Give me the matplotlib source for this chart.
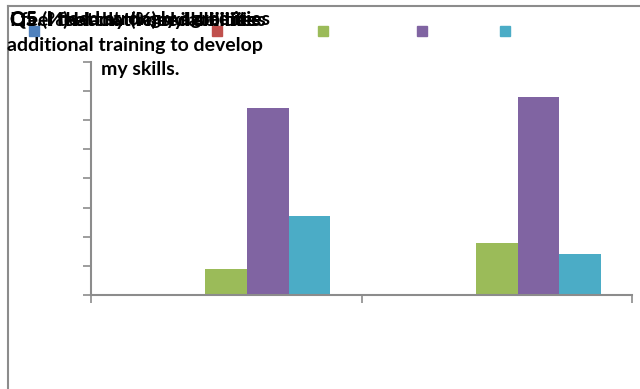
import matplotlib.pyplot as plt
from matplotlib.patches import Rectangle
from matplotlib.lines import Line2D
import numpy as np

# survey answers, percent per group
groups = ["Group 1", "Group 2"]
series_names = ["Strongly disagree", "Disagree", "Neutral", "Agree", "Strongly agree"]
colors = ["#4F81BD", "#C0504D", "#9BBB59", "#8064A2", "#4BACC6"]
strongly_disagree = [0, 0]
disagree = [0, 0]
neutral = [9, 18]
agree = [64, 68]
strongly_agree = [27, 14]
values = [strongly_disagree, disagree, neutral, agree, strongly_agree]

title_junk = ["Q5. I feel that I need abilities", "Q5 (%) I lack the my abilities",
              "Q5. I need strongly agree ities", "I feel that my (%) skills bilities"]
title_lines = ["additional training to develop", "my skills."]

W, H = 640, 389
fig = plt.figure(figsize=(6.4, 3.89), dpi=100)
ax = fig.add_axes([91 / W, 1 - 295 / H, 541 / W, 233.3 / H])

x = np.arange(len(groups))
w = 1 / 6.5
for i, vals in enumerate(values):
    ax.bar(x + (i - 2) * w, vals, width=w, color=colors[i], label=series_names[i])

ax.set_xlim(-0.5, 1.5)
ax.set_ylim(0, 80)
ax.set_yticks(np.arange(0, 81, 10))
ax.set_yticklabels([])
ax.set_xticks([-0.5, 0.5, 1.5])
ax.set_xticklabels([])
gray = "#8c8c8c"
for s in ["top", "right"]:
    ax.spines[s].set_visible(False)
for s in ["left", "bottom"]:
    ax.spines[s].set_color(gray)
    ax.spines[s].set_linewidth(1.5)
ax.tick_params(axis="both", direction="out", color=gray, width=1.2, length=6)

# chart area frame (top and left edges visible)
fig.add_artist(Line2D([8 / W, 1], [1 - 6 / H, 1 - 6 / H], color=gray, lw=1.5, transform=fig.transFigure))
fig.add_artist(Line2D([8 / W, 8 / W], [0, 1 - 6 / H], color=gray, lw=1.5, transform=fig.transFigure))

# legend keys, labels lost
key_x = [34, 217, 323, 421.5, 505]
for kx, c in zip(key_x, colors):
    fig.add_artist(Rectangle(((kx - 5) / W, 1 - 36 / H), 10 / W, 10 / H, color=c,
                             transform=fig.transFigure, zorder=1))

# garbled title, drawn over the legend keys
fam = ["Lato", "DejaVu Sans"]
for t in title_junk:
    fig.text(10 / W, 1 - 20 / H, t, ha="left", va="center", fontsize=14, fontweight="bold", family=fam, zorder=5)
fig.text(135 / W, 1 - 45 / H, title_lines[0], ha="center", va="center", fontsize=14, fontweight="bold", family=fam, zorder=5)
fig.text(140 / W, 1 - 70 / H, title_lines[1], ha="center", va="center", fontsize=14, fontweight="bold", family=fam, zorder=5)

fig.savefig("out.png", dpi=100)
